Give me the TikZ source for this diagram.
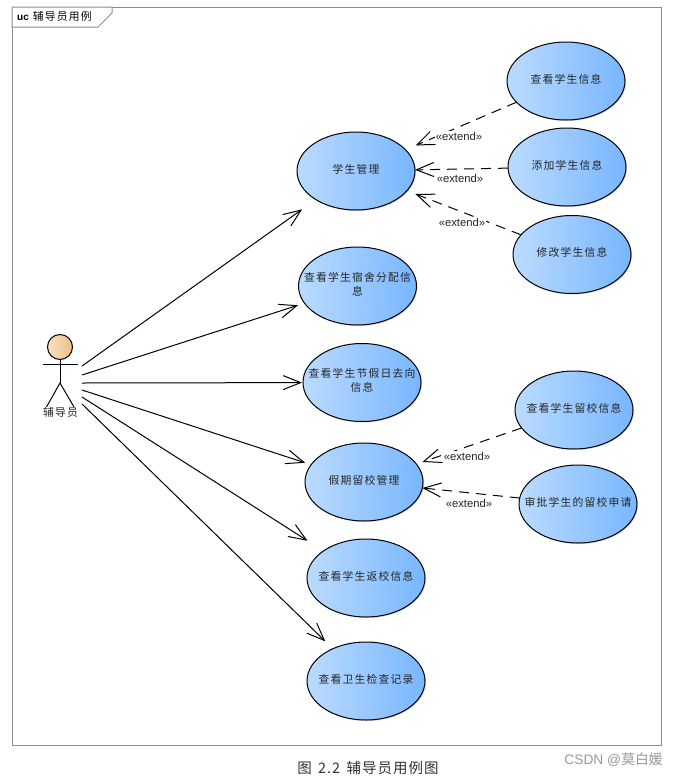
\documentclass[tikz,border=0pt]{standalone}
\usepackage{fontspec}
\usetikzlibrary{arrows.meta,shapes.geometric,shadows}
\newfontfamily\cjk[LetterSpace=11]{Noto Sans CJK SC}
\newfontfamily\capfont[LetterSpace=7]{Noto Sans CJK SC}
\newfontfamily\cjkplain{Noto Sans CJK SC}
\setmainfont{Liberation Sans}
\definecolor{ucleft}{HTML}{BBDBFF}
\definecolor{ucright}{HTML}{78B6FF}
\definecolor{headleft}{HTML}{F8E2C4}
\definecolor{headright}{HTML}{EDBF85}
\tikzset{
  usecase/.style={ellipse,draw=black,line width=1pt,minimum width=118pt,minimum height=78pt,inner xsep=-32pt,inner ysep=0pt,outer sep=0pt,
    left color=ucleft,right color=ucright,align=center,font=\fontsize{10.8pt}{14pt}\selectfont\cjk,text=black!85,text depth=4.3pt,
    drop shadow={shadow xshift=1pt,shadow yshift=-1pt,opacity=.35}},
  assoc/.style={-{Straight Barb[length=17.5pt,width=14pt,line width=1pt]},line width=1pt,black},
  extendline/.style={-{Straight Barb[length=17.5pt,width=14pt,line width=1pt]},line width=1pt,black,dash pattern=on 10pt off 7pt},
  extendlabel/.style={font=\fontsize{11.3pt}{12pt}\selectfont,fill=white,inner sep=1pt,text=black!85},
  actorline/.style={line width=1pt,black},
  framebox/.style={draw=black!45,line width=1pt}
}
\begin{document}
\begin{tikzpicture}[x=1pt,y=-1pt]
\useasboundingbox[fill=white] (0,0) rectangle (679,777);
% frame
\draw[framebox] (12,7) rectangle (661,745);
\draw[framebox,fill=white] (12,7) -- (112,7) -- (112,13) -- (98,27) -- (12,27) -- cycle;
\node[anchor=west,inner sep=0pt,font=\fontsize{10pt}{12pt}\selectfont] (tabtext) at (17,16.5) {\textbf{uc}\hspace{4pt}{\fontsize{10.8pt}{12pt}\selectfont\cjk 辅导员用例}};
% use cases
\node[usecase] (u1) at (356,171) {学生管理};
\node[usecase] (u2) at (357.5,286) {查看学生宿舍分配信\\息};
\node[usecase] (u3) at (362,382.5) {查看学生节假日去向\\信息};
\node[usecase] (u4) at (364,482) {假期留校管理};
\node[usecase] (u5) at (366,578) {查看学生返校信息};
\node[usecase] (u6) at (366,681) {查看卫生检查记录};
\node[usecase] (e1) at (566,81) {查看学生信息};
\node[usecase] (e2) at (567,167) {添加学生信息};
\node[usecase] (e3) at (572,254.5) {修改学生信息};
\node[usecase] (e4) at (574,410) {查看学生留校信息};
\node[usecase] (e5) at (578,504) {审批学生的留校申请};
% actor
\node[circle,draw=black,line width=1pt,minimum size=25pt,inner sep=0pt,outer sep=0pt,left color=headleft,right color=headright] (head) at (60,347) {};
\coordinate (hip) at (60,383);
\coordinate (armL) at (43,364.5);
\coordinate (armR) at (78,364.5);
\coordinate (footL) at (46.5,407);
\coordinate (footR) at (74,407);
\draw[actorline] (head.south) -- (hip);
\draw[actorline] (armL) -- (armR);
\draw[actorline] (footL) -- (hip) -- (footR);
\node[inner sep=0pt,font=\fontsize{10.8pt}{12pt}\selectfont\cjk,text=black!85] (actor) at (60.5,412.5) {辅导员};
% actor connection start points
\coordinate (a1) at (82,366);
\coordinate (a2) at (82,375);
\coordinate (a3) at (82,383);
\coordinate (a4) at (82,390);
\coordinate (a5) at (82,397);
\coordinate (a6) at (82,404);
\draw[assoc,shorten >=16.8pt] (a1) -- (u1);
\draw[assoc,shorten >=6.8pt] (a2) -- (u2);
\draw[assoc,shorten >=1pt] (a3) -- (u3);
\draw[assoc,shorten >=6.3pt] (a4) -- (u4);
\draw[assoc,shorten >=19pt] (a5) -- (u5);
\draw[assoc,shorten >=10.6pt] (a6) -- (u6);
% extend
\draw[extendline,shorten >=11pt] (e1) -- (u1);
\draw[extendline] (e2) -- (u1);
\draw[extendline,shorten >=9pt] (e3) -- (u1);
\draw[extendline,shorten >=6.4pt] (e4) -- (u4);
\draw[extendline] (e5) -- (u4);
\node[extendlabel] (l1) at (459,136) {«extend»};
\node[extendlabel] (l2) at (460,178) {«extend»};
\node[extendlabel] (l3) at (462,222) {«extend»};
\node[extendlabel] (l4) at (467,456) {«extend»};
\node[extendlabel] (l5) at (469,503) {«extend»};
% caption
\node[inner sep=0pt,font=\fontsize{14.5pt}{16pt}\selectfont\capfont,text=black!80] (cap) at (368,768) {图\hspace{2pt} 2.2\hspace{2pt} 辅导员用例图};
\node[inner sep=0pt,font=\fontsize{13.8pt}{16pt}\selectfont,text=black!40] (mark) at (613.5,760) {CSDN @{\cjkplain 莫白媛}};
\end{tikzpicture}
\end{document}
